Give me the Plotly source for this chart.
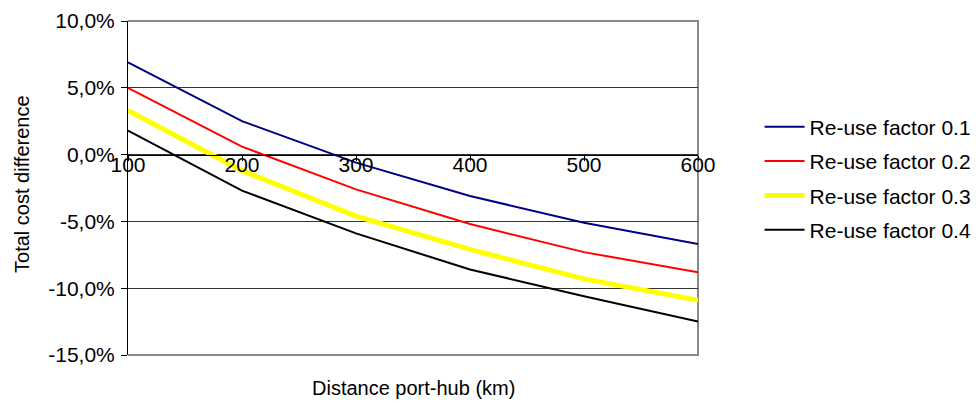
import plotly.graph_objects as go

distance = [100, 200, 300, 400, 500, 600]
reuse_01 = [6.9, 2.5, -0.6, -3.1, -5.1, -6.7]
reuse_02 = [5.0, 0.6, -2.6, -5.2, -7.3, -8.8]
reuse_03 = [3.3, -1.2, -4.6, -7.1, -9.3, -10.9]
reuse_04 = [1.8, -2.7, -5.9, -8.6, -10.6, -12.5]

y_ticks = [10, 5, 0, -5, -10, -15]
y_ticklabels = ["10,0%", "5,0%", "0,0%", "-5,0%", "-10,0%", "-15,0%"]

series = [
    ("Re-use factor 0.1", reuse_01, "#000080", 2),
    ("Re-use factor 0.2", reuse_02, "#FF0000", 2),
    ("Re-use factor 0.3", reuse_03, "#FFFF00", 5),
    ("Re-use factor 0.4", reuse_04, "#000000", 2),
]

FONT = "Liberation Sans, Arial, sans-serif"
FS = 20
FT = 21

fig = go.Figure()
for i, (name, vals, color, w) in enumerate(series):
    fig.add_trace(go.Scatter(
        x=distance, y=vals, mode="lines", name=name,
        line=dict(color=color, width=w), legendgroup=f"g{i}",
    ))

fig.update_layout(
    width=977, height=405,
    margin=dict(l=128, r=279, t=21, b=50, autoexpand=False),
    paper_bgcolor="white", plot_bgcolor="white",
    font=dict(family=FONT, size=FS, color="black"),
    showlegend=True,
    legend=dict(x=1.108, xanchor="left", y=0.528, yanchor="middle",
                font=dict(size=FT), tracegroupgap=4, bgcolor="rgba(0,0,0,0)",
                itemwidth=40),
    xaxis=dict(
        range=[100, 600], tickvals=distance, ticktext=[str(d) for d in distance],
        anchor="free", position=0.6, showline=True, linecolor="black", linewidth=1,
        ticks="outside", ticklen=5, tickcolor="black", showgrid=False, zeroline=False,
        tickfont=dict(size=FT), ticklabelstandoff=-14, automargin=False,
    ),
    yaxis=dict(
        range=[-15, 10], tickvals=y_ticks, ticktext=y_ticklabels,
        showline=True, linecolor="black", linewidth=1,
        ticks="outside", ticklen=6, tickcolor="black",
        showgrid=True, gridcolor="#333333", gridwidth=1, zeroline=False,
        tickfont=dict(size=FT), ticklabelstandoff=2, automargin=False,
    ),
    shapes=[dict(type="path", xref="paper", yref="paper",
                 path="M 0 1 L 1 1 L 1 0 L 0 0",
                 line=dict(color="#888888", width=2), layer="between")],
    annotations=[
        dict(text="Distance port-hub (km)", xref="paper", yref="paper",
             x=0.5, y=-0.099, showarrow=False, font=dict(size=FS),
             xanchor="center", yanchor="middle"),
        dict(text="Total cost difference", xref="paper", yref="paper",
             x=-0.186, y=0.512, showarrow=False, textangle=-90, font=dict(size=FS),
             xanchor="center", yanchor="middle"),
    ],
)

fig.write_html("out.html")
